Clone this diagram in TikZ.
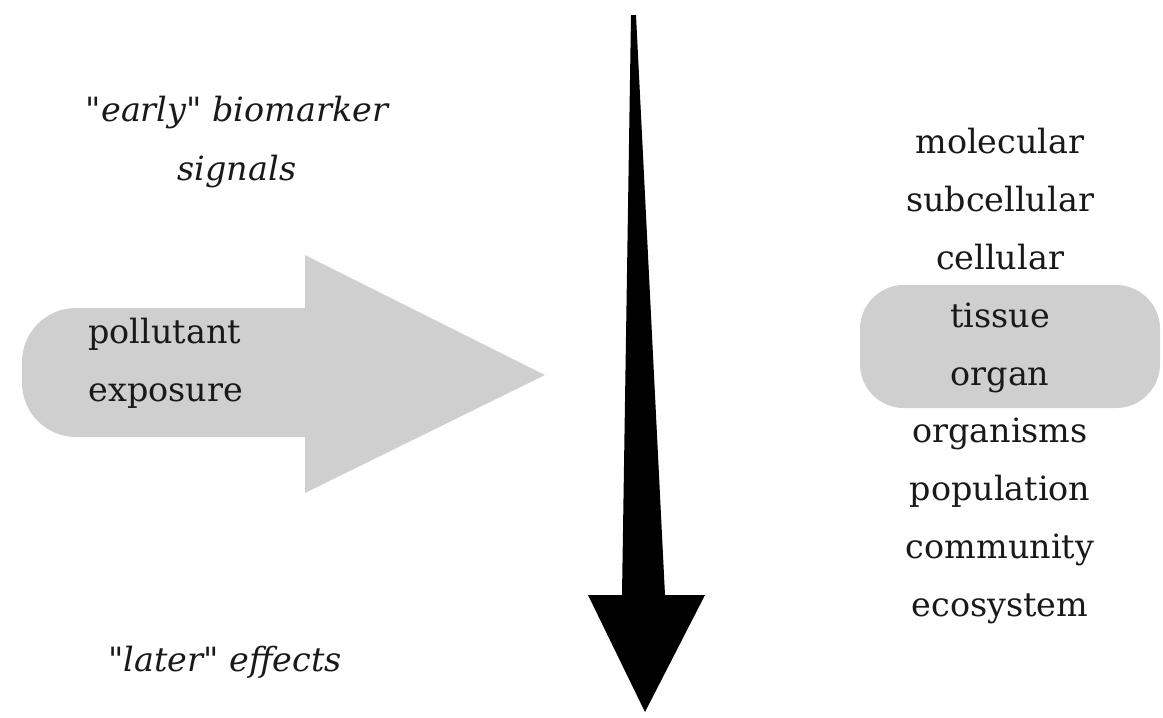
\documentclass[tikz,border=0pt]{standalone}
\usepackage{fontspec}
\setmainfont{DejaVu Serif}[Ligatures=TeXOff]
\usepackage{tikz}
\usetikzlibrary{matrix,backgrounds}
\definecolor{boxgray}{RGB}{207,207,207}
\definecolor{ink}{RGB}{25,25,25}

\begin{document}
\begin{tikzpicture}[x=0.5pt,y=-0.5pt,
  every node/.style={text=ink},
  lbl/.style={inner sep=0pt, font=\fontsize{16.7}{29}\selectfont}]
  \useasboundingbox (0,0) rectangle (1163,718);
  % levels of organisation
  \matrix (m) [matrix of nodes, row sep=0pt, nodes={lbl, text height=19pt, text depth=9.9pt}] at (1000,376)
  {
molecular \\
subcellular \\
cellular \\
tissue \\
organ \\
organisms \\
population \\
community \\
ecosystem \\
};
  \begin{scope}[on background layer]
    \fill[boxgray, rounded corners=22pt] (860,285) rectangle (1160,408);
  \end{scope}
  % exposure arrow
  \fill[boxgray] (305,308) -- (305,255) -- (545,375) -- (305,493) -- (305,437)
    [rounded corners=27pt] -- (22,437) -- (22,308) [sharp corners] -- cycle;
  \node (exp) [lbl, align=left, anchor=west] at (88,363) {pollutant\\exposure};
  % time arrow
  \fill[black] (631,15) -- (636,15) -- (665,595) -- (705,595) -- (645,712) -- (588,595) -- (622,595) -- cycle;
  \node (early) [lbl, font=\fontsize{16.7}{29.5}\selectfont\itshape, align=center] at (237,142) {"early" biomarker\\signals};
  \node (later) [lbl, font=\fontsize{16.7}{29.5}\selectfont\itshape] at (225,662) {"later" effects};
\end{tikzpicture}
\end{document}
